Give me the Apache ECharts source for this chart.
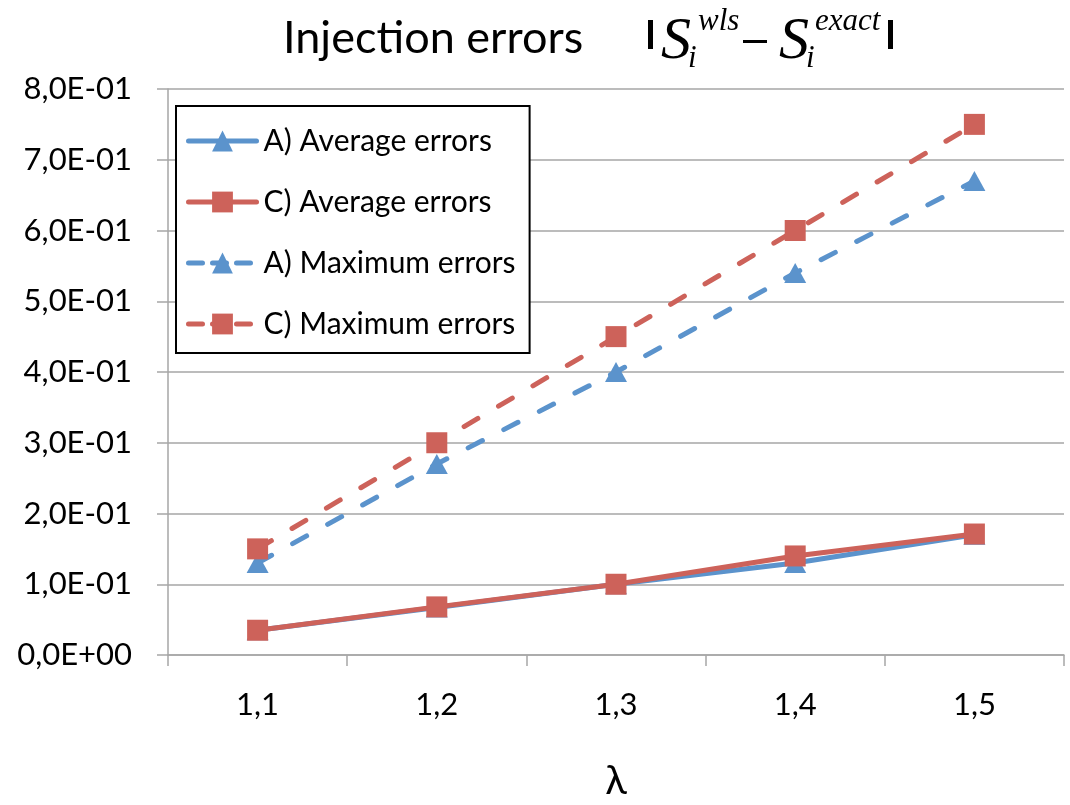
<!DOCTYPE html>
<html>
<head>
<meta charset="utf-8">
<script src="https://cdn.jsdelivr.net/npm/echarts@6/dist/echarts.min.js"></script>
<style>
  html, body { margin: 0; padding: 0; background: #fff; }
  #chart { width: 1070px; height: 805px; }
</style>
</head>
<body>
<div id="chart"></div>
<script>
// λ values on the horizontal axis
const lambdas = ['1,1', '1,2', '1,3', '1,4', '1,5'];

// Injection errors |S_i^wls - S_i^exact|
const avgErrorsA = [0.035, 0.067, 0.100, 0.130, 0.170];
const avgErrorsC = [0.035, 0.068, 0.100, 0.140, 0.171];
const maxErrorsA = [0.130, 0.270, 0.400, 0.540, 0.670];
const maxErrorsC = [0.150, 0.300, 0.450, 0.600, 0.750];

const seriesNames = ['A) Average errors', 'C) Average errors', 'A) Maximum errors', 'C) Maximum errors'];

const BLUE = '#5b93cc';
const RED = '#cd625a';
const GRID = '#a6a6a6';
const SANS = 'Lato, "Open Sans", sans-serif';
const SERIF = '"Liberation Serif", "DejaVu Serif", serif';
const LINE_W = 5;
const DASH = [16, 24];

// "8,0E-01" style scientific labels
function sciLabel(v) {
  if (v === 0) return '0,0E+00';
  const [m, e] = v.toExponential(1).split('e');
  const exp = parseInt(e, 10);
  const sign = exp < 0 ? '-' : '+';
  const digits = String(Math.abs(exp)).padStart(2, '0');
  return m.replace('.', ',') + 'E' + sign + digits;
}

function symbolSizeOf(symbol) {
  return symbol === 'triangle' ? [22, 20] : 21;
}

function lineSeries(name, data, color, symbol, dashed) {
  return {
    name: name,
    type: 'line',
    data: data,
    symbol: symbol,
    symbolSize: symbolSizeOf(symbol),
    showAllSymbol: true,
    itemStyle: { color: color },
    lineStyle: {
      color: color,
      width: LINE_W,
      type: dashed ? DASH : 'solid',
      cap: 'round'
    },
    animation: false,
    z: dashed ? 3 : 4
  };
}

function legendItem(name, color, dashed) {
  return {
    name: name,
    lineStyle: { color: color, width: LINE_W, type: dashed ? [14, 10] : 'solid', cap: 'round' }
  };
}

const chart = echarts.init(document.getElementById('chart'), null, { renderer: 'canvas' });

chart.setOption({
  backgroundColor: '#ffffff',
  animation: false,
  grid: { left: 168, right: 6, top: 89, bottom: 150, containLabel: false, outerBoundsMode: 'none' },
  legend: {
    orient: 'vertical',
    left: 176,
    top: 106,
    padding: [20, 14, 14, 10],
    itemGap: 31,
    itemWidth: 68,
    itemHeight: 26,
    borderColor: '#000',
    borderWidth: 2,
    backgroundColor: '#fff',
    data: [
      legendItem(seriesNames[0], BLUE, false),
      legendItem(seriesNames[1], RED, false),
      legendItem(seriesNames[2], BLUE, true),
      legendItem(seriesNames[3], RED, true)
    ],
    textStyle: { fontFamily: SANS, fontSize: 30, color: '#000', padding: [0, 0, 0, 2] }
  },
  xAxis: {
    type: 'category',
    data: lambdas,
    boundaryGap: true,
    name: 'λ',
    nameLocation: 'middle',
    nameGap: 106,
    nameTextStyle: { fontFamily: SANS, fontSize: 40, color: '#000' },
    axisLine: { lineStyle: { color: GRID, width: 1.5 } },
    axisTick: { show: true, length: 11, lineStyle: { color: GRID, width: 1.5 } },
    axisLabel: { fontFamily: SANS, fontSize: 31, color: '#000', margin: 34 },
    splitLine: { show: false }
  },
  yAxis: {
    type: 'value',
    min: 0,
    max: 0.8,
    interval: 0.1,
    axisLine: { show: true, lineStyle: { color: GRID, width: 1.5 } },
    axisTick: { show: true, length: 11, lineStyle: { color: GRID, width: 1.5 } },
    axisLabel: {
      fontFamily: SANS, fontSize: 31, color: '#000', margin: 36,
      padding: [8, 0, 0, 0], formatter: sciLabel
    },
    splitLine: { show: true, lineStyle: { color: GRID, width: 1.5 } }
  },
  series: [
    lineSeries(seriesNames[0], avgErrorsA, BLUE, 'triangle', false),
    lineSeries(seriesNames[1], avgErrorsC, RED, 'rect', false),
    lineSeries(seriesNames[2], maxErrorsA, BLUE, 'triangle', true),
    lineSeries(seriesNames[3], maxErrorsC, RED, 'rect', true)
  ],
  graphic: [
    {
      type: 'text', x: 283, y: 38,
      style: { text: 'Injection errors', fontFamily: SANS, fontSize: 45, fill: '#000', verticalAlign: 'middle' }
    },
    // |S_i^wls − S_i^exact|
    { type: 'rect', shape: { x: 648, y: 20, width: 5, height: 29 }, style: { fill: '#000' } },
    { type: 'text', x: 661, y: 42,
      style: { text: 'S', fontFamily: SERIF, fontStyle: 'italic', fontSize: 60, fill: '#000', verticalAlign: 'middle' } },
    { type: 'text', x: 698, y: 22,
      style: { text: 'wls', fontFamily: SERIF, fontStyle: 'italic', fontSize: 31, fill: '#000', verticalAlign: 'middle' } },
    { type: 'text', x: 688, y: 59,
      style: { text: 'i', fontFamily: SERIF, fontStyle: 'italic', fontSize: 31, fill: '#000', verticalAlign: 'middle' } },
    { type: 'rect', shape: { x: 743, y: 40, width: 24, height: 3 }, style: { fill: '#000' } },
    { type: 'text', x: 779, y: 42,
      style: { text: 'S', fontFamily: SERIF, fontStyle: 'italic', fontSize: 60, fill: '#000', verticalAlign: 'middle' } },
    { type: 'text', x: 815, y: 22,
      style: { text: 'exact', fontFamily: SERIF, fontStyle: 'italic', fontSize: 31, fill: '#000', verticalAlign: 'middle' } },
    { type: 'text', x: 806, y: 59,
      style: { text: 'i', fontFamily: SERIF, fontStyle: 'italic', fontSize: 31, fill: '#000', verticalAlign: 'middle' } },
    { type: 'rect', shape: { x: 888, y: 20, width: 5, height: 29 }, style: { fill: '#000' } }
  ]
});
</script>
</body>
</html>
